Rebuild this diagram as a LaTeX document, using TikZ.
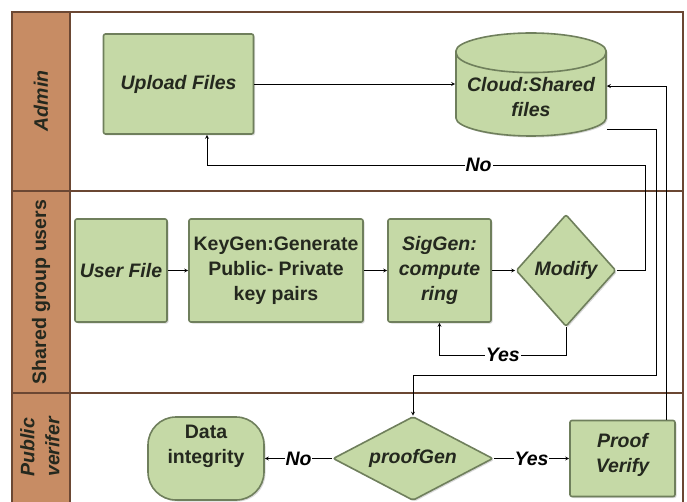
\documentclass[tikz,border=0pt]{standalone}
\usepackage{fontspec}
\setmainfont{Liberation Sans}
\usepackage{xcolor}
\usetikzlibrary{shapes.geometric, positioning, shadows}

\definecolor{boxgreen}{HTML}{C5D9A6}
\definecolor{boxedge}{HTML}{6F7F5C}
\definecolor{boxtext}{HTML}{24281E}
\definecolor{lanebrown}{HTML}{C78C64}
\definecolor{laneedge}{HTML}{6B4733}

\begin{document}
\begin{tikzpicture}[x=1pt, y=-1pt,
    box/.style={draw=boxedge, line width=1.6pt, fill=boxgreen, text=boxtext, rounded corners=2pt, align=center, inner sep=2pt,
        font=\fontsize{19.5}{25}\selectfont\bfseries\itshape, drop shadow={opacity=0.3, shadow xshift=1.5pt, shadow yshift=-1.5pt}},
    upright/.style={font=\fontsize{19.5}{25}\selectfont\bfseries},
    store/.style={box, cylinder, shape border rotate=90, aspect=0.3},
    decision/.style={box, diamond, inner sep=0pt},
    lanelabel/.style={rotate=90, align=center, text=boxtext, font=\fontsize{19.5}{25}\selectfont\bfseries\itshape},
    lbl/.style={fill=white, inner sep=1pt, font=\fontsize{19.5}{23}\selectfont\bfseries\itshape},
    arrow/.style={->, >=stealth, line width=0.8pt}
]
    \useasboundingbox (0,0) rectangle (687,502);
    \clip (0,0) rectangle (687,502);

    % swimlanes
    \fill[lanebrown] (12,12) rectangle (70,510);
    \draw[laneedge, line width=2.5pt] (12,12) rectangle (683,510);
    \draw[laneedge, line width=2.5pt] (70,12) -- (70,510);
    \draw[laneedge, line width=2.5pt] (12,191) -- (683,191);
    \draw[laneedge, line width=2.5pt] (12,393) -- (683,393);
    \node (admin) [lanelabel] at (41,101) {Admin};
    \node (shared) [lanelabel, font=\fontsize{19.5}{22}\selectfont\bfseries] at (41,292) {Shared group users};
    \node (public) [lanelabel] at (40,447) {Public\\verifer};

    % Admin
    \node (upload) [box, minimum width=150pt, minimum height=100pt] at (178.5,84) {Upload Files};
    \node (cloud) [store, minimum width=150pt, minimum height=103pt, anchor=shape center] at (531,84.5) {Cloud:Shared\\files};

    % Shared group users
    \node (userfile) [box, minimum width=92pt, minimum height=103pt] at (121,270.5) {User File};
    \node (keygen) [box, upright, minimum width=174pt, minimum height=103pt, right of=userfile, node distance=155pt] {KeyGen:Generate\\Public- Private\\key pairs};
    \node (siggen) [box, minimum width=103pt, minimum height=103pt, right of=keygen, node distance=163.5pt] {SigGen:\\compute\\ring};
    \node (modify) [decision, aspect=0.9, minimum width=100pt, minimum height=112pt, right of=siggen, node distance=126.5pt] {Modify};

    % Public verifer
    \node (data) [box, upright, rounded corners=28pt, minimum width=116pt, minimum height=83pt, text height=39pt, text depth=30pt] at (206,458.5) {Data\\integrity};
    \node (proofgen) [decision, aspect=1.9, minimum width=160pt, minimum height=84pt, right of=data, node distance=207pt] {proofGen};
    \node (verify) [box, minimum width=105pt, minimum height=76pt, text height=39pt, text depth=12pt, right of=proofgen, node distance=209.5pt] {Proof\\Verify};

    \coordinate (down1) at (656,375);
    \coordinate (back1) at (645,165);

    \draw [arrow] (upload) -- (upload -| cloud.west);
    \draw [arrow] (userfile) -- (keygen);
    \draw [arrow] (keygen) -- (siggen);
    \draw [arrow] (siggen) -- (modify);
    \draw [arrow] (modify.south) -- ++(0,28) -| node (yes1) [lbl, pos=0.25] {Yes} (siggen.south);
    \draw [arrow] (modify.east) -| (back1) -| node (no1) [lbl, pos=0.19] {No} ([xshift=28.5pt]upload.south);
    \draw [arrow] ([yshift=-32pt]cloud.east) -| (down1) -| (proofgen.north);
    \draw [arrow] ([xshift=44pt]verify.north) |- ([yshift=11pt]cloud.east);
    \draw [arrow] (proofgen) -- node (no2) [lbl] {No} (data);
    \draw [arrow] (proofgen) -- node (yes2) [lbl] {Yes} (verify);
\end{tikzpicture}
\end{document}
